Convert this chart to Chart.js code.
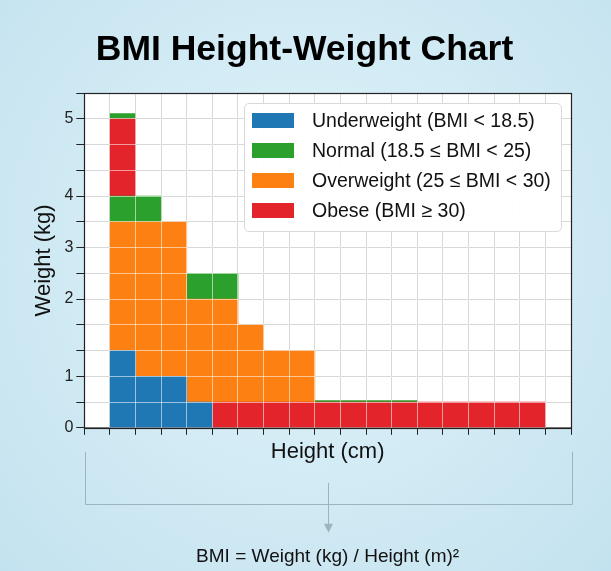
<!DOCTYPE html>
<html>
<head>
<meta charset="utf-8">
<title>BMI Height-Weight Chart</title>
<script src="https://cdn.jsdelivr.net/npm/chart.js@4.4.0/dist/chart.umd.min.js"></script>
<style>
  body { margin: 0; }
  .wrap {
    position: relative; width: 611px; height: 571px; overflow: hidden;
    background: radial-gradient(ellipse at 50% 45%, #dff1f8 0%, #d4ecf5 45%, #c3e2ef 100%);
    font-family: "Liberation Sans", Arial, Helvetica, sans-serif;
  }
  #bmi { position: absolute; left: 0; top: 0; }
  h1 {
    position: absolute; left: -1px; top: 27px; width: 611px; margin: 0;
    text-align: center; font-size: 35.5px; line-height: 42px; font-weight: bold; color: #000;
  }
  .legend {
    position: absolute; left: 244px; top: 103px; width: 318px; height: 129px;
    box-sizing: border-box; background: rgba(255,255,255,0.93);
    border: 1px solid #d9d9d9; border-radius: 5px;
  }
  .legend .row { position: absolute; left: 7px; height: 20px; display: flex; align-items: center; }
  .legend .sw { width: 42px; height: 15px; margin-right: 18px; flex: none; }
  .legend .txt { font-size: 19.5px; color: #111; white-space: nowrap; }
</style>
</head>
<body>
<div class="wrap">
  <canvas id="bmi" width="611" height="571"></canvas>
  <h1>BMI Height-Weight Chart</h1>
  <div class="legend" id="legend"></div>
</div>
<script>
// x categories (height bins), first and last are empty padding bins
const heightBins = ['', 'H1', 'H2', 'H3', 'H4', 'H5', 'H6', 'H7', 'H8', 'H9',
  'H10', 'H11', 'H12', 'H13', 'H14', 'H15', 'H16', 'H17', ''];

// stacked segment heights, in grid cells
const underweight = [null, 3, 2, 2, 1, null, null, null, null, null, null, null, null, null, null, null, null, null, null];
const obeseBase   = [null, null, null, null, null, 1, 1, 1, 1, 1, 1, 1, 1, 1, 1, 1, 1, 1, null];
const overweight  = [null, 5, 6, 6, 4, 4, 3, 2, 2, null, null, null, null, null, null, null, null, null, null];
const normal      = [null, 1, 1, null, 1, 1, null, null, null, 0.06, 0.06, 0.06, 0.06, null, null, null, null, null, null];
const obeseTop    = [null, 3, null, null, null, null, null, null, null, null, null, null, null, null, null, null, null, null, null];
const normalTop   = [null, 0.2, null, null, null, null, null, null, null, null, null, null, null, null, null, null, null, null, null];

// y tick labels (weight) sit on these grid lines
const tickSteps  = [0, 2, 5, 7, 9, 12];
const tickLabels = ['0', '1', '2', '3', '4', '5'];

const bmiClasses = ['Underweight (BMI < 18.5)', 'Normal (18.5 ≤ BMI < 25)',
  'Overweight (25 ≤ BMI < 30)', 'Obese (BMI ≥ 30)'];
const classColors = ['#1f77b4', '#2ca02c', '#fd8112', '#e3242b'];

const FONT = '"Liberation Sans", Arial, Helvetica, sans-serif';

function align(px) { return Math.round(px - 0.5) + 0.5; }

const plotFrame = {
  id: 'plotFrame',
  beforeDraw(chart) {
    const a = chart.chartArea, ctx = chart.ctx;
    ctx.save();
    ctx.fillStyle = '#ffffff';
    ctx.fillRect(a.left, a.top, a.right - a.left, a.bottom - a.top);
    ctx.restore();
  },
  afterDatasetsDraw(chart) {
    const a = chart.chartArea, ctx = chart.ctx;
    const xs = chart.scales.x, ys = chart.scales.y;
    ctx.save();
    ctx.beginPath();
    ctx.rect(a.left, a.top, a.right - a.left, a.bottom - a.top);
    ctx.clip();
    // light cell lines over the bars
    ctx.strokeStyle = 'rgba(255,255,255,0.55)';
    ctx.lineWidth = 1;
    ys.ticks.forEach(t => {
      const y = align(ys.getPixelForValue(t.value));
      ctx.beginPath(); ctx.moveTo(a.left, y); ctx.lineTo(a.right, y); ctx.stroke();
    });
    const w = xs.width / heightBins.length;
    for (let i = 0; i <= heightBins.length; i++) {
      const x = align(xs.getPixelForValue(0) - w / 2 + i * w);
      ctx.beginPath(); ctx.moveTo(x, a.top); ctx.lineTo(x, a.bottom); ctx.stroke();
    }
    ctx.restore();
    // frame
    ctx.save();
    ctx.strokeStyle = '#222';
    ctx.lineWidth = 1.2;
    ctx.strokeRect(align(a.left), align(a.top), Math.round(a.right - a.left), Math.round(a.bottom - a.top));
    ctx.restore();
  },
  afterDraw(chart) {
    const a = chart.chartArea, ctx = chart.ctx;
    const cx = Math.round((a.left + a.right) / 2) + 0.5;
    ctx.save();
    ctx.strokeStyle = '#9db4bf';
    ctx.fillStyle = '#9db4bf';
    ctx.lineWidth = 1;
    const l = align(a.left + 1), r = align(a.right + 1);
    const t = a.bottom + 24, b = align(a.bottom + 77);
    ctx.beginPath();
    ctx.moveTo(l, t); ctx.lineTo(l, b); ctx.lineTo(r, b); ctx.lineTo(r, t);
    ctx.stroke();
    ctx.beginPath();
    ctx.moveTo(cx, a.bottom + 55); ctx.lineTo(cx, a.bottom + 97);
    ctx.stroke();
    ctx.beginPath();
    ctx.moveTo(cx - 4.5, a.bottom + 96);
    ctx.lineTo(cx + 4.5, a.bottom + 96);
    ctx.lineTo(cx, a.bottom + 105);
    ctx.closePath();
    ctx.fill();
    ctx.restore();
  }
};

function bars(label, data, color) {
  return { label, data, backgroundColor: color, borderWidth: 0,
    barPercentage: 1, categoryPercentage: 1 };
}

new Chart(document.getElementById('bmi'), {
  type: 'bar',
  data: {
    labels: heightBins,
    datasets: [
      bars(bmiClasses[0], underweight, classColors[0]),
      bars(bmiClasses[3], obeseBase, classColors[3]),
      bars(bmiClasses[2], overweight, classColors[2]),
      bars(bmiClasses[1], normal, classColors[1]),
      bars(bmiClasses[3], obeseTop, classColors[3]),
      bars(bmiClasses[1], normalTop, classColors[1])
    ]
  },
  options: {
    responsive: false,
    devicePixelRatio: 1,
    animation: false,
    layout: { padding: { left: 27, right: 40, top: 93, bottom: 0 } },
    plugins: {
      legend: { display: false },
      tooltip: { enabled: false },
      subtitle: {
        display: true,
        position: 'bottom',
        fullSize: false,
        text: 'BMI = Weight (kg) / Height (m)²',
        color: '#111',
        font: { family: FONT, size: 19 },
        padding: { top: 76, bottom: 3 }
      }
    },
    scales: {
      x: {
        type: 'category',
        stacked: true,
        grid: { color: '#a8a8a8', tickLength: 7, tickColor: '#222' },
        border: { color: '#222' },
        ticks: { display: false },
        title: {
          display: true, text: 'Height (cm)', color: '#111',
          font: { family: FONT, size: 22 }, padding: { top: 4, bottom: 4 }
        }
      },
      y: {
        stacked: true,
        min: 0,
        max: 13,
        grid: { color: '#a8a8a8', tickLength: 8, tickColor: '#222' },
        border: { color: '#222' },
        ticks: {
          stepSize: 1,
          autoSkip: false,
          color: '#222',
          font: { family: FONT, size: 16 },
          callback: v => {
            const i = tickSteps.indexOf(v);
            return i < 0 ? '' : tickLabels[i];
          }
        },
        title: {
          display: true, text: 'Weight (kg)', color: '#111',
          font: { family: FONT, size: 22 }, padding: { top: 4, bottom: 4 }
        }
      }
    }
  },
  plugins: [plotFrame]
});

// legend box inside the plot
const legendEl = document.getElementById('legend');
bmiClasses.forEach((name, i) => {
  const row = document.createElement('div');
  row.className = 'row';
  row.style.top = (6 + i * 30.2) + 'px';
  const sw = document.createElement('div');
  sw.className = 'sw';
  sw.style.background = classColors[i];
  const txt = document.createElement('span');
  txt.className = 'txt';
  txt.textContent = name;
  row.appendChild(sw);
  row.appendChild(txt);
  legendEl.appendChild(row);
});
</script>
</body>
</html>
